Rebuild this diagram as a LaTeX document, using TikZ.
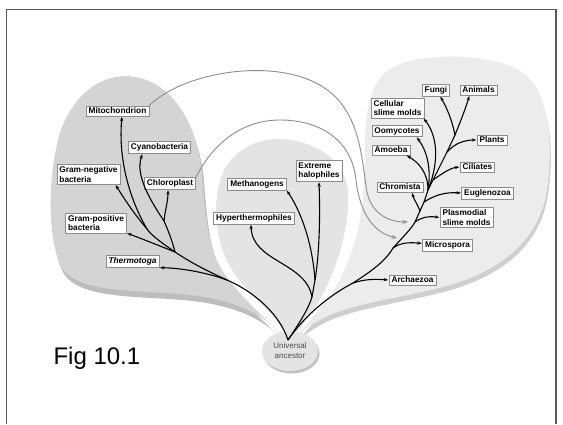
\documentclass[tikz,border=0pt]{standalone}
\usepackage{fontspec}
\setmainfont{Liberation Sans}
\usetikzlibrary{arrows.meta,shapes.geometric,shadows}

\definecolor{bactfill}{HTML}{D4D4D4}
\definecolor{bactshade}{HTML}{BDBDBD}
\definecolor{archfill}{HTML}{E4E4E4}
\definecolor{eukfill}{HTML}{ECECEC}
\definecolor{eukshade}{HTML}{CFCFCF}
\definecolor{framegray}{HTML}{5A5A5A}

\tikzset{
  taxon/.style={draw=black!45, line width=0.6pt, fill=white, align=left,
    inner xsep=2.5pt, inner ysep=2pt,
    font=\bfseries\fontsize{8.3}{9.5}\selectfont},
  branch/.style={line width=1.1pt, -{Stealth[length=4.5pt,width=3.2pt]},
    shorten >=0.5pt},
  trunk/.style={line width=1.1pt},
  transfer/.style={black!45, line width=0.9pt,
    -{Stealth[length=5.5pt,width=4pt]}},
}

\begin{document}
\begin{tikzpicture}[x=1pt, y=-1pt]
  \useasboundingbox (0,0) rectangle (563,424);

  % frame ---------------------------------------------------
  \draw[framegray, line width=1.3pt] (6.5,424) -- (6.5,9.5) -- (556,9.5) -- (556,424);

  % domains -------------------------------------------------
  \fill[bactshade, shift={(2,6)}]
    (284,337) .. controls (265,318) and (238,295) .. (222,270)
    .. controls (208,248) and (205,215) .. (202,175)
    .. controls (198,130) and (178,88) .. (140,78)
    .. controls (100,68) and (68,100) .. (58,140)
    .. controls (48,180) and (47,240) .. (62,268)
    .. controls (78,292) and (130,290) .. (180,294)
    .. controls (230,298) and (262,312) .. (284,337) -- cycle;
  \fill[bactfill]
    (284,337) .. controls (265,318) and (238,295) .. (222,270)
    .. controls (208,248) and (205,215) .. (202,175)
    .. controls (198,130) and (178,88) .. (140,78)
    .. controls (100,68) and (68,100) .. (58,140)
    .. controls (48,180) and (47,240) .. (62,268)
    .. controls (78,292) and (130,290) .. (180,294)
    .. controls (230,298) and (262,312) .. (284,337) -- cycle;

  \fill[eukshade, shift={(1,5)}]
    (293,341) .. controls (305,325) and (325,305) .. (337,285)
    .. controls (352,258) and (362,225) .. (364,185)
    .. controls (366,140) and (360,85) .. (392,68)
    .. controls (420,52) and (490,52) .. (522,72)
    .. controls (555,95) and (553,165) .. (545,200)
    .. controls (535,240) and (505,265) .. (465,280)
    .. controls (425,295) and (365,300) .. (330,315)
    .. controls (312,323) and (300,332) .. (293,341) -- cycle;
  \fill[eukfill]
    (293,341) .. controls (305,325) and (325,305) .. (337,285)
    .. controls (352,258) and (362,225) .. (364,185)
    .. controls (366,140) and (360,85) .. (392,68)
    .. controls (420,52) and (490,52) .. (522,72)
    .. controls (555,95) and (553,165) .. (545,200)
    .. controls (535,240) and (505,265) .. (465,280)
    .. controls (425,295) and (365,300) .. (330,315)
    .. controls (312,323) and (300,332) .. (293,341) -- cycle;

  \fill[archfill]
    (290,342) .. controls (282,318) and (250,298) .. (232,270)
    .. controls (218,248) and (208,205) .. (225,168)
    .. controls (240,145) and (260,139) .. (280,139)
    .. controls (310,140) and (340,155) .. (347,185)
    .. controls (352,215) and (340,260) .. (325,290)
    .. controls (312,315) and (298,330) .. (290,342) -- cycle;

  % root ----------------------------------------------------
  \node[ellipse, fill=archfill, minimum width=56pt, minimum height=40pt,
        inner sep=0pt, text=black!70, align=center,
        font=\fontsize{8}{10}\selectfont,
        drop shadow={shadow xshift=1.5pt, shadow yshift=-2.5pt,
                     fill=black!35, opacity=0.7}]
        (ancestor) at (290,351) {Universal\\ancestor};
  \coordinate (root) at (288,340);

  \node[anchor=base west, font=\fontsize{24}{28}\selectfont] (figlabel) at (50,364) {Fig 10.1};

  % bacteria ------------------------------------------------
  \node[taxon] (mito)     at (117.5,111)   {Mitochondrion};
  \node[taxon] (cyano)    at (159.5,147.5) {Cyanobacteria};
  \node[taxon] (gramneg)  at (88.5,174.5)  {Gram-negative\\bacteria};
  \node[taxon] (chloro)   at (170,183.5)   {Chloroplast};
  \node[taxon] (grampos)  at (96,223)      {Gram-positive\\bacteria};
  \node[taxon] (thermo)   at (132.5,261.5) {\textit{Thermotoga}};

  % archaea -------------------------------------------------
  \node[taxon] (methano)  at (257,184)     {Methanogens};
  \node[taxon] (halo)     at (319,171)     {Extreme\\halophiles};
  \node[taxon] (hyper)    at (254,218)     {Hyperthermophiles};

  % eukarya -------------------------------------------------
  \node[taxon] (fungi)    at (436,90)      {Fungi};
  \node[taxon] (animals)  at (478.5,90)    {Animals};
  \node[taxon] (slime)    at (397.5,108)   {Cellular\\slime molds};
  \node[taxon] (oomy)     at (397,131)     {Oomycotes};
  \node[taxon] (amoeba)   at (391,150)     {Amoeba};
  \node[taxon] (plants)   at (492,140)     {Plants};
  \node[taxon] (ciliates) at (477.5,167)   {Ciliates};
  \node[taxon] (chromista) at (400,187)    {Chromista};
  \node[taxon] (eugleno)  at (487.5,193)   {Euglenozoa};
  \node[taxon] (plasmo)   at (466.5,217.5) {Plasmodial\\slime molds};
  \node[taxon] (micro)    at (447.5,245)   {Microspora};
  \node[taxon] (archae)   at (412.5,280)   {Archaezoa};

  % endosymbiosis -------------------------------------------
  \coordinate (mitoEnd)   at (408,222);
  \coordinate (chloroEnd) at (397,238);
  \draw[transfer] (mito.north east) .. controls (185,70) and (285,55) .. (330,92)
    .. controls (362,118) and (362,165) .. (367,192)
    .. controls (372,215) and (390,222) .. (mitoEnd);
  \draw[transfer] (chloro.north east) .. controls (215,140) and (245,120) .. (280,120)
    .. controls (320,120) and (352,140) .. (356,180)
    .. controls (360,215) and (375,233) .. (chloroEnd);

  % bacterial tree ------------------------------------------
  \coordinate (lt1) at (227,280);
  \coordinate (jl)  at (175,252);
  \coordinate (jmg) at (147,229);
  \coordinate (jcc) at (164,221);
  \draw[trunk] (root) .. controls (280,315) and (255,292) .. (lt1)
    .. controls (205,270) and (190,262) .. (jl);
  \draw[branch] (lt1) .. controls (205,272) and (180,268) .. (thermo.south east);
  \draw[branch] (jl) .. controls (160,246) and (145,240) .. (grampos.south east);
  \draw[trunk] (jl) .. controls (162,243) and (152,236) .. (jmg);
  \draw[branch] (jmg) .. controls (130,200) and (118,160) .. ([xshift=4.5pt]mito.south);
  \draw[branch] (jmg) .. controls (135,215) and (125,200) .. ([xshift=-5pt]gramneg.south east);
  \draw[trunk] (jl) .. controls (172,240) and (168,230) .. (jcc);
  \draw[branch] (jcc) .. controls (150,200) and (135,175) .. ([xshift=-17pt]cyano.south);
  \draw[branch] (jcc) .. controls (165,210) and (168,202) .. ([xshift=-2pt]chloro.south);

  % archaeal tree -------------------------------------------
  \coordinate (jm1) at (312,297);
  \coordinate (jm2) at (315,280);
  \draw[trunk] (root) .. controls (298,325) and (308,310) .. (jm1) -- (jm2);
  \draw[branch] (jm1) .. controls (306,262) and (252,262) .. ([xshift=-3pt]hyper.south);
  \draw[branch] (jm2) .. controls (312,240) and (300,210) .. (methano.south east);
  \draw[branch] (jm2) .. controls (320,250) and (320,210) .. (halo.south);

  % eukaryotic tree -----------------------------------------
  \coordinate (r1) at (353,283);
  \coordinate (r2) at (393,248);
  \coordinate (r3) at (415,222);
  \coordinate (r4) at (420,211);
  \coordinate (r5) at (424,202);
  \coordinate (c1) at (428,190);
  \coordinate (c2) at (433,180);
  \coordinate (c3) at (447,152);
  \coordinate (c4) at (455,135);
  \draw[trunk] (root) .. controls (305,315) and (330,295) .. (r1)
    .. controls (370,272) and (385,262) .. (r2)
    .. controls (402,238) and (412,228) .. (r3)
    -- (r4) -- (r5) -- (c1) -- (c2) -- (c3) -- (c4);
  \draw[branch] (r1) .. controls (365,279) and (375,279) .. (archae.west);
  \draw[branch] (r2) .. controls (400,243) and (408,242) .. ([yshift=1.5pt]micro.west);
  \draw[branch] (r3) .. controls (422,217) and (428,216) .. (plasmo.west);
  \draw[branch] (r4) .. controls (418,205) and (414,200) .. ([xshift=12pt]chromista.south);
  \draw[branch] (r5) .. controls (435,195) and (445,192) .. (eugleno.west);
  \draw[branch] (c1) .. controls (428,172) and (418,162) .. ([xshift=-4pt]amoeba.south east);
  \draw[branch] (c1) .. controls (432,165) and (425,148) .. ([xshift=-6pt]oomy.south east);
  \draw[branch] (c1) .. controls (440,160) and (437,135) .. ([xshift=-1pt]slime.south east);
  \draw[branch] (c2) .. controls (443,173) and (450,168) .. (ciliates.west);
  \draw[branch] (c3) .. controls (455,143) and (465,140) .. (plants.west);
  \draw[branch] (c4) .. controls (452,120) and (447,108) .. ([xshift=4pt]fungi.south);
  \draw[branch] (c4) .. controls (461,120) and (465,110) .. ([xshift=-9pt]animals.south);

\end{tikzpicture}
\end{document}
